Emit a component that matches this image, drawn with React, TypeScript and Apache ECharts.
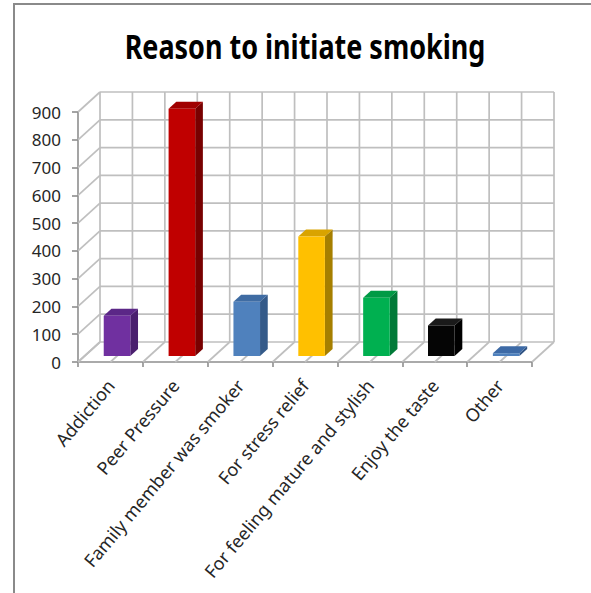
import { useEffect, useRef } from "react";
import * as echarts from "echarts";

// Survey answers: reason respondents gave for starting to smoke
const categories = [
  "Addiction",
  "Peer Pressure",
  "Family member was smoker",
  "For stress relief",
  "For feeling mature and stylish",
  "Enjoy the taste",
  "Other",
];
const counts = [145, 890, 195, 430, 210, 110, 10];

// Value axis ticks
const yMin = 0;
const yMax = 900;
const yStep = 100;

// Face colours of each column: front, top, right side
const frontColors = ["#7030A0", "#C00000", "#4F81BD", "#FFC000", "#00B050", "#050505", "#4F81BD"];
const topColors = ["#5B2787", "#A00000", "#3F6CA3", "#D9A300", "#009A45", "#1A1A1A", "#3D6AA6"];
const sideColors = ["#4A1F6E", "#780000", "#345A89", "#A67F00", "#007A38", "#000000", "#2F5383"];

const TITLE = "Reason to initiate smoking";

// Oblique projection of the depth axis (pixels for the full depth)
const DEPTH_X = 22;
const DEPTH_Y = -20;
// Column placement inside the depth (fractions of full depth)
const COL_FRONT = 0.3;
const COL_BACK = 0.65;
const COL_WIDTH = 0.41;

const GRID_COLOR = "#BFBFBF";
const AXIS_COLOR = "#8E8E8E";

function measureTitle(text: string, font: string): number {
  const ctx = document.createElement("canvas").getContext("2d");
  if (!ctx) return 361;
  ctx.font = font;
  return ctx.measureText(text).width;
}

export default function App() {
  const ref = useRef<HTMLDivElement>(null);

  useEffect(() => {
    if (!ref.current) return;
    const chart = echarts.init(ref.current, undefined, { renderer: "svg" });

    const titleFont = 'bold 34px "Noto Sans"';
    const titleWidth = measureTitle(TITLE, titleFont);
    const titleScale = 361 / titleWidth;

    const ticks: number[] = [];
    for (let v = yMin; v <= yMax; v += yStep) ticks.push(v);

    const line = (x1: number, y1: number, x2: number, y2: number) => ({
      type: "line",
      shape: { x1, y1, x2, y2 },
      style: { stroke: GRID_COLOR, lineWidth: 1.7 },
      silent: true,
    });

    // Walls and floor of the 3D box, drawn from the axes' own scales
    const renderFrame = (_params: any, api: any) => {
      const band = api.size([1, 0])[0];
      const x0 = api.coord([0, yMin])[0] - band / 2;
      const n = categories.length;
      const x1 = x0 + band * n;
      const yOf = (v: number) => api.coord([0, v])[1];
      const children: any[] = [];
      for (const v of ticks) {
        const y = yOf(v);
        children.push(line(x0 + DEPTH_X, y + DEPTH_Y, x1 + DEPTH_X, y + DEPTH_Y));
        children.push(line(x0, y, x0 + DEPTH_X, y + DEPTH_Y));
      }
      const yb = yOf(yMin);
      const yt = yOf(yMax);
      for (let k = 0; k <= 2 * n; k++) {
        const x = x0 + (k * band) / 2;
        children.push(line(x + DEPTH_X, yb + DEPTH_Y, x + DEPTH_X, yt + DEPTH_Y));
        children.push(line(x, yb, x + DEPTH_X, yb + DEPTH_Y));
      }
      return { type: "group", children };
    };

    // Each column: front face, top face and right side face
    const renderColumn = (params: any, api: any) => {
      const i = api.value(0);
      const v = api.value(1);
      const band = api.size([1, 0])[0];
      const [cx, yBase] = api.coord([i, 0]);
      const yTop = api.coord([i, v])[1];
      const w = band * COL_WIDTH;
      const lx = cx - w / 2 + COL_FRONT * DEPTH_X;
      const rx = lx + w;
      const by = yBase + COL_FRONT * DEPTH_Y;
      const ty = yTop + COL_FRONT * DEPTH_Y;
      const dx = (COL_BACK - COL_FRONT) * DEPTH_X;
      const dy = (COL_BACK - COL_FRONT) * DEPTH_Y;
      const idx = params.dataIndex;
      return {
        type: "group",
        children: [
          {
            type: "polygon",
            shape: { points: [[rx, ty], [rx + dx, ty + dy], [rx + dx, by + dy], [rx, by]] },
            style: { fill: sideColors[idx] },
          },
          {
            type: "polygon",
            shape: { points: [[lx, ty], [rx, ty], [rx + dx, ty + dy], [lx + dx, ty + dy]] },
            style: { fill: topColors[idx] },
          },
          {
            type: "polygon",
            shape: { points: [[lx, ty], [rx, ty], [rx, by], [lx, by]] },
            style: { fill: frontColors[idx] },
          },
        ],
      };
    };

    chart.setOption({
      animation: false,
      backgroundColor: "#FFFFFF",
      graphic: [
        {
          type: "polyline",
          shape: { points: [[14, 593], [14, 4], [591, 4]] },
          style: { stroke: "#8A8A8A", lineWidth: 2, fill: "none" },
          silent: true,
        },
        {
          type: "text",
          x: 305,
          y: 46,
          scaleX: titleScale,
          style: {
            text: TITLE,
            font: titleFont,
            fill: "#000000",
            align: "center",
            verticalAlign: "middle",
          },
        },
      ],
      grid: { left: 78, right: 59, top: 112, bottom: 231, containLabel: false },
      xAxis: {
        type: "category",
        data: categories,
        boundaryGap: true,
        axisLine: { show: true, lineStyle: { color: AXIS_COLOR, width: 1.6 } },
        axisTick: { show: true, length: 5, lineStyle: { color: AXIS_COLOR, width: 1.6 } },
        axisLabel: {
          interval: 0,
          rotate: 50,
          margin: 20,
          fontFamily: "Noto Sans",
          fontSize: 18,
          color: "#262626",
        },
        splitLine: { show: false },
      },
      yAxis: {
        type: "value",
        min: yMin,
        max: yMax,
        interval: yStep,
        axisLine: { show: true, lineStyle: { color: AXIS_COLOR, width: 1.6 } },
        axisTick: { show: true, length: 6, lineStyle: { color: AXIS_COLOR, width: 1.6 } },
        axisLabel: {
          margin: 17,
          fontFamily: "Noto Sans",
          fontSize: 17,
          color: "#262626",
        },
        splitLine: { show: false },
      },
      series: [
        {
          type: "custom",
          name: "frame",
          z: 1,
          silent: true,
          renderItem: renderFrame,
          data: [[0, 0]],
        },
        {
          type: "custom",
          name: "Reason to initiate smoking",
          z: 3,
          renderItem: renderColumn,
          data: categories.map((_, i) => [i, counts[i]]),
        },
      ],
    });

    return () => chart.dispose();
  }, []);

  return (
    <div
      ref={ref}
      style={{ position: "absolute", left: 0, top: 0, width: 591, height: 593 }}
    />
  );
}
